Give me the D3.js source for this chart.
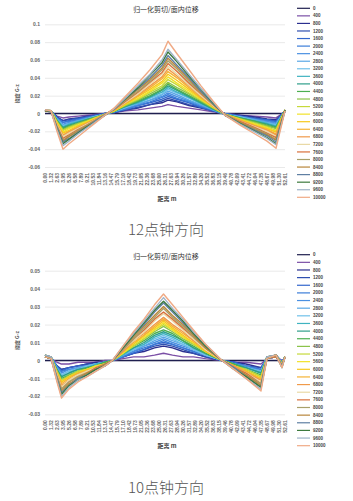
<!DOCTYPE html>
<html>
<head>
<meta charset="utf-8">
<script src="https://cdn.jsdelivr.net/npm/d3@7"></script>
<style>
  body { margin: 0; background: #fff; }
  svg text { font-family: "Liberation Sans", "Noto Sans CJK SC", sans-serif; }
</style>
</head>
<body>
<div id="chart"></div>
<script>
// series names (legend)
const seriesNames = ['0','400','800','1200','1600','2000','2400','2800','3200','3600','4000','4400','4800',
  '5200','5600','6000','6400','6800','7200','7600','8000','8400','8800','9200','9600','10000']

// category labels along the distance axis
const xTickLabels = ['0.00','1.32','2.63','3.95','5.26','6.58','7.89','9.21','10.53','11.84','13.16','14.47',
  '15.79','17.10','18.42','19.73','21.05','22.36','23.68','25.00','26.31','27.63','28.94','30.26','31.57',
  '32.89','34.20','35.52','36.83','38.15','39.46','40.78','42.09','43.41','44.72','46.04','47.35','48.67',
  '49.98','51.30','52.61']

const yTicks12 = [-0.06, -0.04, -0.02, 0, 0.02, 0.04, 0.06, 0.08, 0.1]
const yTicks10 = [-0.03, -0.02, -0.01, 0, 0.01, 0.02, 0.03, 0.04, 0.05]

// 12 o'clock: measuring positions (m) and one row per series
const dist12 = [0, 1.32, 2.63, 3.95, 5.26, 7.24, 9.21, 11.18, 13.16, 15.13, 17.76, 20.39, 23.03, 25.66,
  26.97, 28.95, 31.58, 34.21, 36.84, 39.47, 42.76, 46.05, 48.68, 50.66, 52.63]

const values12 = [
  [0,0,0,0,0,0,0,0,0,0,0,0,0,0,0,0,0,0,0,0,0,0,0,0,0],
  [0.003,0.002,-0.003,-0.005,-0.004,-0.003,-0.002,-0.001,0.000,0.001,0.003,0.004,0.006,0.008,0.010,0.008,0.006,0.004,0.002,0.000,-0.002,-0.003,-0.004,-0.005,0.002],
  [0.003,0.002,-0.004,-0.008,-0.006,-0.005,-0.003,-0.002,0.000,0.001,0.004,0.006,0.010,0.012,0.015,0.013,0.009,0.006,0.003,0.000,-0.002,-0.004,-0.006,-0.007,0.002],
  [0.003,0.003,-0.004,-0.008,-0.007,-0.005,-0.004,-0.002,0.000,0.001,0.004,0.007,0.010,0.014,0.017,0.014,0.010,0.007,0.003,0.000,-0.003,-0.005,-0.007,-0.008,0.003],
  [0.004,0.002,-0.005,-0.010,-0.008,-0.006,-0.004,-0.002,-0.001,0.002,0.005,0.009,0.012,0.016,0.019,0.016,0.012,0.007,0.003,-0.001,-0.003,-0.006,-0.007,-0.009,0.003],
  [0.003,0.002,-0.005,-0.010,-0.009,-0.007,-0.005,-0.003,0.000,0.002,0.005,0.009,0.013,0.018,0.021,0.017,0.013,0.008,0.004,0.000,-0.003,-0.006,-0.008,-0.010,0.003],
  [0.004,0.003,-0.006,-0.012,-0.010,-0.008,-0.005,-0.003,-0.001,0.002,0.006,0.010,0.015,0.019,0.023,0.019,0.014,0.009,0.004,-0.001,-0.004,-0.007,-0.009,-0.011,0.002],
  [0.003,0.002,-0.006,-0.013,-0.011,-0.008,-0.006,-0.003,-0.001,0.002,0.007,0.011,0.015,0.021,0.025,0.021,0.015,0.010,0.004,-0.001,-0.004,-0.007,-0.010,-0.012,0.003],
  [0.004,0.003,-0.007,-0.014,-0.012,-0.009,-0.006,-0.003,-0.001,0.002,0.007,0.012,0.017,0.022,0.027,0.023,0.017,0.011,0.005,-0.001,-0.004,-0.008,-0.011,-0.013,0.003],
  [0.003,0.003,-0.007,-0.015,-0.012,-0.009,-0.006,-0.004,-0.001,0.002,0.008,0.012,0.018,0.024,0.029,0.024,0.018,0.011,0.005,-0.001,-0.005,-0.008,-0.011,-0.014,0.003],
  [0.004,0.002,-0.008,-0.016,-0.013,-0.010,-0.007,-0.004,-0.001,0.003,0.008,0.013,0.019,0.026,0.031,0.026,0.019,0.012,0.005,-0.001,-0.005,-0.009,-0.012,-0.015,0.003],
  [0.003,0.003,-0.008,-0.017,-0.014,-0.011,-0.007,-0.004,-0.001,0.002,0.009,0.014,0.020,0.027,0.033,0.027,0.020,0.013,0.006,-0.001,-0.005,-0.009,-0.013,-0.016,0.004],
  [0.004,0.003,-0.009,-0.018,-0.015,-0.011,-0.008,-0.004,-0.001,0.003,0.009,0.015,0.022,0.029,0.035,0.029,0.022,0.014,0.006,-0.001,-0.006,-0.010,-0.014,-0.017,0.003],
  [0.003,0.002,-0.010,-0.019,-0.016,-0.012,-0.009,-0.005,-0.001,0.003,0.010,0.016,0.024,0.031,0.038,0.032,0.023,0.015,0.007,-0.001,-0.006,-0.011,-0.015,-0.019,0.004],
  [0.004,0.003,-0.010,-0.021,-0.017,-0.013,-0.009,-0.005,-0.001,0.003,0.011,0.017,0.025,0.034,0.041,0.034,0.025,0.016,0.007,-0.001,-0.007,-0.012,-0.016,-0.020,0.003],
  [0.003,0.003,-0.011,-0.022,-0.019,-0.014,-0.010,-0.006,-0.001,0.003,0.011,0.019,0.027,0.036,0.044,0.037,0.027,0.017,0.008,-0.001,-0.007,-0.013,-0.017,-0.021,0.004],
  [0.004,0.002,-0.012,-0.024,-0.020,-0.015,-0.011,-0.006,-0.001,0.004,0.012,0.020,0.029,0.039,0.047,0.040,0.029,0.018,0.008,-0.001,-0.008,-0.014,-0.018,-0.023,0.003],
  [0.003,0.003,-0.013,-0.025,-0.021,-0.016,-0.011,-0.006,-0.001,0.004,0.013,0.021,0.031,0.041,0.050,0.042,0.031,0.019,0.009,-0.001,-0.008,-0.014,-0.019,-0.024,0.004],
  [0.004,0.003,-0.013,-0.026,-0.022,-0.017,-0.012,-0.007,-0.001,0.004,0.013,0.022,0.033,0.044,0.053,0.044,0.032,0.020,0.009,-0.001,-0.009,-0.015,-0.020,-0.026,0.003],
  [0.003,0.002,-0.014,-0.028,-0.024,-0.018,-0.013,-0.007,-0.001,0.004,0.014,0.024,0.035,0.046,0.056,0.047,0.034,0.022,0.010,-0.001,-0.009,-0.016,-0.022,-0.027,0.004],
  [0.004,0.003,-0.015,-0.030,-0.025,-0.019,-0.013,-0.007,-0.001,0.005,0.015,0.025,0.036,0.049,0.059,0.050,0.036,0.023,0.010,-0.001,-0.010,-0.017,-0.023,-0.029,0.003],
  [0.003,0.003,-0.016,-0.031,-0.026,-0.020,-0.014,-0.008,-0.002,0.005,0.016,0.027,0.038,0.051,0.062,0.052,0.038,0.024,0.011,-0.002,-0.010,-0.018,-0.024,-0.030,0.004],
  [0.004,0.002,-0.016,-0.032,-0.028,-0.021,-0.015,-0.008,-0.002,0.005,0.017,0.028,0.040,0.054,0.065,0.054,0.040,0.025,0.011,-0.002,-0.011,-0.019,-0.025,-0.032,0.003],
  [0.003,0.003,-0.017,-0.034,-0.029,-0.022,-0.015,-0.009,-0.002,0.005,0.017,0.029,0.043,0.057,0.069,0.058,0.042,0.027,0.012,-0.002,-0.011,-0.020,-0.027,-0.034,0.004],
  [0.004,0.003,-0.018,-0.036,-0.031,-0.023,-0.016,-0.009,-0.002,0.005,0.018,0.031,0.044,0.060,0.072,0.060,0.044,0.028,0.013,-0.002,-0.012,-0.021,-0.028,-0.035,0.003],
  [0.004,0.003,-0.020,-0.040,-0.034,-0.026,-0.018,-0.010,-0.002,0.006,0.020,0.034,0.049,0.066,0.081,0.067,0.049,0.031,0.014,-0.002,-0.013,-0.023,-0.031,-0.039,0.003]
]

// 10 o'clock
const dist10 = [0, 1.32, 2.63, 3.62, 5.26, 7.24, 9.21, 11.18, 13.16, 14.80, 17.11, 19.41, 21.71, 24.01,
  25.99, 27.96, 30.26, 32.56, 35.20, 38.82, 41.45, 44.08, 47.37, 48.68, 50.66, 51.97, 52.63]

const values10 = [
  [0,0,0,0,0,0,0,0,0,0,0,0,0,0,0,0,0,0,0,0,0,0,0,0,0,0,0],
  [0.002,0.001,-0.001,-0.002,-0.002,-0.001,-0.001,-0.001,0.000,0.000,0.001,0.002,0.002,0.003,0.004,0.003,0.002,0.002,0.001,0.000,-0.001,-0.001,-0.002,0.001,0.002,0.000,0.001],
  [0.002,0.001,-0.003,-0.005,-0.004,-0.003,-0.002,-0.001,-0.001,0.000,0.002,0.004,0.005,0.007,0.008,0.007,0.005,0.004,0.002,0.000,-0.001,-0.002,-0.004,0.001,0.002,-0.001,0.002],
  [0.003,0.001,-0.003,-0.005,-0.004,-0.003,-0.002,-0.002,-0.001,0.000,0.002,0.004,0.006,0.008,0.009,0.008,0.006,0.004,0.002,0.000,-0.001,-0.003,-0.004,0.001,0.003,-0.001,0.002],
  [0.002,0.002,-0.003,-0.006,-0.004,-0.003,-0.003,-0.002,-0.001,0.000,0.002,0.004,0.006,0.009,0.010,0.009,0.007,0.005,0.003,0.000,-0.001,-0.003,-0.005,0.001,0.002,-0.001,0.002],
  [0.002,0.001,-0.004,-0.006,-0.005,-0.004,-0.003,-0.002,-0.001,0.000,0.002,0.005,0.007,0.009,0.011,0.009,0.007,0.005,0.003,0.000,-0.002,-0.003,-0.005,0.002,0.003,-0.001,0.002],
  [0.003,0.001,-0.004,-0.007,-0.005,-0.004,-0.003,-0.002,-0.001,0.000,0.003,0.005,0.008,0.010,0.012,0.010,0.008,0.006,0.003,0.000,-0.002,-0.003,-0.006,0.001,0.003,-0.001,0.002],
  [0.002,0.002,-0.004,-0.008,-0.006,-0.004,-0.003,-0.002,-0.001,0.000,0.003,0.006,0.008,0.011,0.013,0.011,0.009,0.006,0.003,0.000,-0.002,-0.004,-0.006,0.001,0.002,-0.001,0.002],
  [0.002,0.001,-0.005,-0.008,-0.006,-0.005,-0.003,-0.002,-0.001,0.000,0.003,0.006,0.009,0.012,0.014,0.012,0.009,0.006,0.003,0.000,-0.002,-0.004,-0.006,0.002,0.003,-0.002,0.002],
  [0.003,0.002,-0.005,-0.009,-0.007,-0.005,-0.004,-0.002,-0.001,0.000,0.003,0.007,0.009,0.013,0.015,0.013,0.010,0.007,0.004,0.000,-0.002,-0.004,-0.007,0.001,0.003,-0.002,0.002],
  [0.002,0.001,-0.005,-0.009,-0.007,-0.005,-0.004,-0.003,-0.001,0.000,0.004,0.007,0.010,0.014,0.016,0.014,0.011,0.007,0.004,0.000,-0.002,-0.004,-0.007,0.002,0.002,-0.002,0.002],
  [0.003,0.002,-0.006,-0.010,-0.008,-0.006,-0.004,-0.003,-0.001,0.000,0.004,0.008,0.011,0.015,0.017,0.015,0.011,0.008,0.004,0.000,-0.002,-0.005,-0.008,0.001,0.003,-0.002,0.002],
  [0.002,0.001,-0.006,-0.011,-0.008,-0.006,-0.005,-0.003,-0.002,0.000,0.004,0.008,0.012,0.016,0.019,0.016,0.012,0.009,0.005,0.000,-0.003,-0.005,-0.009,0.002,0.003,-0.002,0.002],
  [0.003,0.001,-0.006,-0.011,-0.009,-0.006,-0.005,-0.003,-0.002,0.000,0.004,0.008,0.012,0.017,0.020,0.017,0.013,0.009,0.005,0.000,-0.003,-0.005,-0.009,0.001,0.003,-0.002,0.002],
  [0.002,0.002,-0.007,-0.012,-0.009,-0.007,-0.005,-0.003,-0.002,0.000,0.004,0.009,0.013,0.017,0.021,0.017,0.013,0.010,0.005,0.000,-0.003,-0.006,-0.010,0.002,0.002,-0.002,0.002],
  [0.002,0.001,-0.007,-0.012,-0.009,-0.007,-0.005,-0.004,-0.002,0.000,0.005,0.009,0.014,0.018,0.022,0.018,0.014,0.010,0.005,0.000,-0.003,-0.006,-0.010,0.001,0.003,-0.002,0.002],
  [0.003,0.002,-0.007,-0.013,-0.010,-0.007,-0.006,-0.004,-0.002,0.000,0.005,0.010,0.014,0.019,0.023,0.019,0.015,0.011,0.006,0.000,-0.003,-0.006,-0.011,0.002,0.003,-0.003,0.002],
  [0.002,0.001,-0.008,-0.014,-0.011,-0.008,-0.006,-0.004,-0.002,0.000,0.005,0.011,0.015,0.020,0.024,0.020,0.016,0.011,0.006,0.000,-0.003,-0.007,-0.011,0.001,0.003,-0.003,0.002],
  [0.003,0.002,-0.008,-0.015,-0.011,-0.008,-0.006,-0.004,-0.002,0.000,0.006,0.011,0.016,0.022,0.026,0.022,0.017,0.012,0.006,0.000,-0.004,-0.007,-0.012,0.002,0.003,-0.003,0.002],
  [0.002,0.001,-0.009,-0.016,-0.012,-0.009,-0.007,-0.004,-0.002,0.000,0.006,0.012,0.017,0.023,0.027,0.023,0.018,0.013,0.007,0.000,-0.004,-0.007,-0.013,0.001,0.002,-0.003,0.002],
  [0.003,0.002,-0.009,-0.016,-0.012,-0.009,-0.007,-0.005,-0.002,0.000,0.006,0.012,0.018,0.024,0.029,0.024,0.019,0.013,0.007,0.000,-0.004,-0.008,-0.013,0.002,0.003,-0.003,0.002],
  [0.002,0.001,-0.010,-0.017,-0.013,-0.010,-0.007,-0.005,-0.002,0.000,0.007,0.013,0.019,0.025,0.030,0.025,0.020,0.014,0.007,0.000,-0.004,-0.008,-0.014,0.001,0.003,-0.003,0.002],
  [0.003,0.002,-0.010,-0.018,-0.014,-0.010,-0.008,-0.005,-0.003,0.000,0.007,0.014,0.020,0.027,0.032,0.027,0.021,0.015,0.008,0.000,-0.004,-0.009,-0.015,0.002,0.003,-0.003,0.002],
  [0.002,0.001,-0.011,-0.019,-0.014,-0.011,-0.008,-0.005,-0.003,0.000,0.007,0.014,0.021,0.028,0.033,0.028,0.022,0.015,0.008,0.000,-0.005,-0.009,-0.015,0.001,0.003,-0.004,0.002],
  [0.003,0.002,-0.011,-0.020,-0.015,-0.011,-0.009,-0.006,-0.003,0.000,0.008,0.015,0.022,0.029,0.035,0.029,0.023,0.016,0.009,0.000,-0.005,-0.010,-0.016,0.002,0.003,-0.004,0.002],
  [0.002,0.001,-0.012,-0.021,-0.016,-0.012,-0.009,-0.006,-0.003,0.000,0.008,0.016,0.023,0.031,0.037,0.031,0.024,0.017,0.009,0.000,-0.005,-0.010,-0.017,0.001,0.003,-0.004,0.002]
]

const lineColors = ['#1f1f4f','#7b4fa6','#2b2f8f','#2f4fb0','#3366cc','#3b7dd8','#4a90e2','#5aa8e6',
  '#6fc0ea','#3fb3c0','#2e9e8a','#4caf50','#8bc34a','#c6d93a','#f2e229','#f7c91e','#f5b335','#f09a4a',
  '#e9d9a6','#d9703c','#a8a06a','#b8863b','#5f7fa3','#3d7a3d','#9fb3c8','#f0aa85']

const svg = d3.select('#chart')
  .append('svg')
  .attr('width', 353)
  .attr('height', 501)

function drawPanel(p) {
  const g = svg.append('g')

  const xScale = d3.scaleLinear()
    .domain([0, 52.63])
    .range([45, 285])

  const yScale = d3.scaleLinear()
    .domain(p.yDomain)
    .range([p.bottom, p.top])

  // gridlines + y labels
  const yAxis = g.append('g')
    .attr('transform', 'translate(45,0)')
    .call(d3.axisLeft(yScale).tickValues(p.yTicks).tickSize(-240).tickPadding(5).tickFormat(d => String(d)))
  yAxis.select('.domain').remove()
  yAxis.selectAll('line').attr('stroke', '#e3e3e3').attr('stroke-width', 0.8)
  yAxis.selectAll('text').attr('font-size', 5).attr('font-weight', 'bold').attr('fill', '#666')

  // category labels
  const xAxis = g.append('g')
    .attr('transform', `translate(0,${p.bottom + 6})`)
    .call(d3.axisBottom(xScale).tickValues(xTickLabels.map(Number)).tickSize(0).tickFormat(d3.format('.2f')))
  xAxis.select('.domain').remove()
  xAxis.selectAll('text')
    .attr('transform', 'rotate(-90)')
    .attr('text-anchor', 'end')
    .attr('dx', 0)
    .attr('dy', '0.35em')
    .attr('y', 0)
    .attr('font-size', 5)
    .attr('font-weight', 'bold')
    .attr('fill', '#666')

  // lines
  const line = d3.line()
    .x((d, i) => xScale(p.dist[i]))
    .y(d => yScale(d))

  g.append('g')
    .selectAll('path')
    .data(p.values)
    .join('path')
    .attr('d', d => line(d))
    .attr('fill', 'none')
    .attr('stroke', (d, i) => lineColors[i])
    .attr('stroke-width', 1.4)
    .attr('stroke-linejoin', 'round')

  // titles
  g.append('text')
    .attr('x', 166).attr('y', p.top - 12)
    .attr('text-anchor', 'middle')
    .attr('font-size', 7)
    .attr('fill', '#333')
    .style('font-family', '"Noto Sans CJK SC"')
    .text('归一化剪切/面内位移')

  g.append('text')
    .attr('transform', `translate(19,${(p.top + p.bottom) / 2 - 2}) rotate(-90)`)
    .attr('text-anchor', 'middle')
    .attr('font-size', 5)
    .attr('font-weight', 'bold')
    .attr('fill', '#555')
    .style('font-family', '"Noto Sans CJK SC"')
    .text('挠度 G-z')

  g.append('text')
    .attr('x', 167).attr('y', p.bottom + 34)
    .attr('text-anchor', 'middle')
    .attr('font-size', 6)
    .attr('font-weight', 'bold')
    .attr('fill', '#444')
    .style('font-family', '"Noto Sans CJK SC"')
    .text('距离 m')

  // legend
  const legend = g.append('g')
    .selectAll('g')
    .data(seriesNames)
    .join('g')
    .attr('transform', (d, i) => `translate(297,${p.legendTop + i * p.legendStep})`)
  legend.append('line')
    .attr('x1', 0).attr('x2', 13)
    .attr('stroke', (d, i) => lineColors[i])
    .attr('stroke-width', 1.2)
  legend.append('text')
    .attr('x', 16).attr('dy', '0.35em')
    .attr('font-size', 4.5)
    .attr('font-weight', 'bold')
    .attr('fill', '#444')
    .text(d => d)

  // caption
  svg.append('text')
    .attr('x', 166).attr('y', p.captionY)
    .attr('text-anchor', 'middle')
    .attr('font-size', 15)
    .attr('fill', '#555')
    .style('font-family', '"Noto Sans CJK SC"')
    .style('font-weight', 300)
    .text(p.caption)
}

drawPanel({
  yDomain: [-0.06, 0.1], yTicks: yTicks12, top: 24.3, bottom: 167,
  dist: dist12, values: values12, legendTop: 8.3, legendStep: 7.56,
  caption: '12点钟方向', captionY: 235
})

drawPanel({
  yDomain: [-0.03, 0.05], yTicks: yTicks10, top: 270.7, bottom: 414.3,
  dist: dist10, values: values10, legendTop: 254.7, legendStep: 7.64,
  caption: '10点钟方向', captionY: 493
})
</script>
</body>
</html>
